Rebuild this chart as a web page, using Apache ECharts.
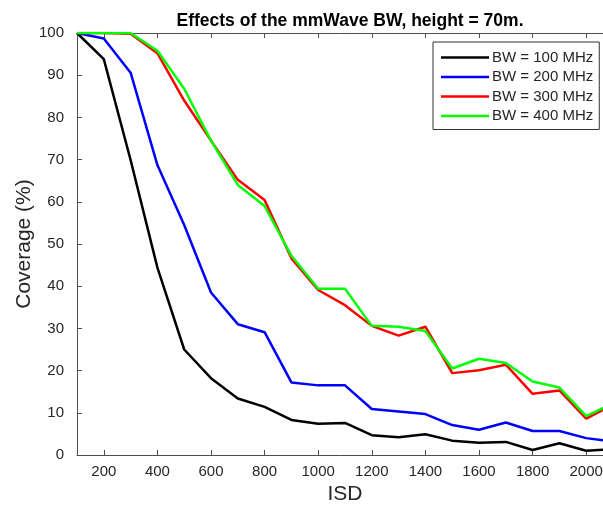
<!DOCTYPE html>
<html>
<head>
<meta charset="utf-8">
<script src="https://cdn.jsdelivr.net/npm/echarts@6/dist/echarts.min.js"></script>
<style>
  html, body { margin: 0; padding: 0; background: #fff; }
  #chart { width: 603px; height: 508px; }
</style>
</head>
<body>
<div id="chart"></div>
<script>
// Inter-site distance (m)
const isd = [100, 200, 300, 400, 500, 600, 700, 800, 900, 1000, 1100,
             1200, 1300, 1400, 1500, 1600, 1700, 1800, 1900, 2000, 2100];

// Coverage (%) per mmWave bandwidth
const bw100 = [100, 93.8, 69.9, 44.4, 25.0, 18.2, 13.4, 11.4, 8.3, 7.4, 7.6,
               4.7, 4.2, 4.9, 3.4, 2.9, 3.1, 1.2, 2.8, 1.0, 1.4];
const bw200 = [100, 98.7, 90.6, 68.7, 54.5, 38.5, 31.0, 29.1, 17.2, 16.5, 16.5,
               10.9, 10.3, 9.7, 7.1, 6.0, 7.7, 5.7, 5.7, 4.0, 3.2];
const bw300 = [100, 100, 99.8, 95.2, 84.0, 74.5, 65.2, 60.4, 46.6, 39.1, 35.5,
               30.6, 28.3, 30.4, 19.4, 20.1, 21.4, 14.5, 15.3, 8.6, 12.0];
const bw400 = [100, 100, 100, 95.8, 86.8, 74.5, 64.0, 59.0, 47.2, 39.4, 39.4,
               30.6, 30.4, 29.4, 20.5, 22.8, 21.8, 17.4, 16.0, 9.2, 12.2];

const seriesNames = ['BW = 100 MHz', 'BW = 200 MHz', 'BW = 300 MHz', 'BW = 400 MHz'];
const seriesColors = ['#000000', '#0000ff', '#ff0000', '#00ff00'];
const seriesData = [bw100, bw200, bw300, bw400];

const xTicks = [200, 400, 600, 800, 1000, 1200, 1400, 1600, 1800, 2000];
const yTicks = [0, 10, 20, 30, 40, 50, 60, 70, 80, 90, 100];

const FONT = '"Liberation Sans", Arial, Helvetica, sans-serif';
const AXIS_COLOR = '#4d4d4d';
const TEXT_COLOR = '#262626';

const chart = echarts.init(document.getElementById('chart'), null, { renderer: 'canvas' });

const xAxisBase = {
  type: 'value',
  min: 100,
  max: 2100,
  interval: 100,
  axisLine: { show: true, onZero: false, lineStyle: { color: AXIS_COLOR, width: 1 } },
  axisTick: {
    show: true, inside: true, length: 5,
    lineStyle: { color: AXIS_COLOR },
    customValues: xTicks
  },
  splitLine: { show: false }
};

const option = {
  backgroundColor: '#ffffff',
  animation: false,
  textStyle: { fontFamily: FONT },
  title: {
    text: 'Effects of the mmWave BW, height = 70m.',
    left: 345,
    textAlign: 'center',
    top: 7,
    textStyle: { fontFamily: FONT, fontSize: 17.5, fontWeight: 'bold', color: '#000' }
  },
  legend: {
    data: seriesNames.map((n, i) => ({ name: n, itemStyle: { color: seriesColors[i] } })),
    orient: 'vertical',
    left: 433,
    top: 42,
    width: 165,
    padding: [8, 6, 6, 8],
    itemGap: 4.5,
    itemWidth: 48,
    itemHeight: 15,
    icon: 'path://M0,6.5 L48,6.5 L48,9 L0,9 Z',
    backgroundColor: '#ffffff',
    borderColor: '#333333',
    borderWidth: 1,
    borderRadius: 0,
    textStyle: { fontFamily: FONT, fontSize: 15, color: TEXT_COLOR, padding: [0, 0, 0, -2] }
  },
  grid: {
    left: 77,
    right: -10,
    top: 33,
    bottom: 53,
    containLabel: false,
    outerBoundsMode: 'none'
  },
  xAxis: [
    Object.assign({}, xAxisBase, {
      position: 'bottom',
      name: 'ISD',
      nameLocation: 'middle',
      nameGap: 29,
      nameTextStyle: { fontFamily: FONT, fontSize: 21, color: TEXT_COLOR },
      axisLabel: {
        show: true,
        fontFamily: FONT, fontSize: 15, color: TEXT_COLOR, margin: 9,
        customValues: xTicks,
        formatter: v => String(v)
      }
    }),
    Object.assign({}, xAxisBase, {
      position: 'top',
      axisLabel: { show: false }
    })
  ],
  yAxis: {
    type: 'value',
    min: 0,
    max: 100,
    interval: 10,
    name: 'Coverage (%)',
    nameLocation: 'middle',
    nameGap: 42,
    nameMoveOverlap: false,
    nameRotate: 90,
    nameTextStyle: { fontFamily: FONT, fontSize: 21, color: TEXT_COLOR },
    axisLine: { show: true, lineStyle: { color: AXIS_COLOR, width: 1 } },
    axisTick: { show: true, inside: true, length: 5, lineStyle: { color: AXIS_COLOR } },
    axisLabel: {
      fontFamily: FONT, fontSize: 15, color: TEXT_COLOR, margin: 13,
      customValues: yTicks
    },
    splitLine: { show: false }
  },
  series: seriesNames.map((name, i) => ({
    name: name,
    type: 'line',
    xAxisIndex: 0,
    data: isd.map((x, j) => [x, seriesData[i][j]]),
    showSymbol: false,
    symbol: 'none',
    clip: true,
    color: seriesColors[i],
    lineStyle: { color: seriesColors[i], width: 2.5 },
    emphasis: { disabled: true }
  }))
};

chart.setOption(option);
</script>
</body>
</html>
